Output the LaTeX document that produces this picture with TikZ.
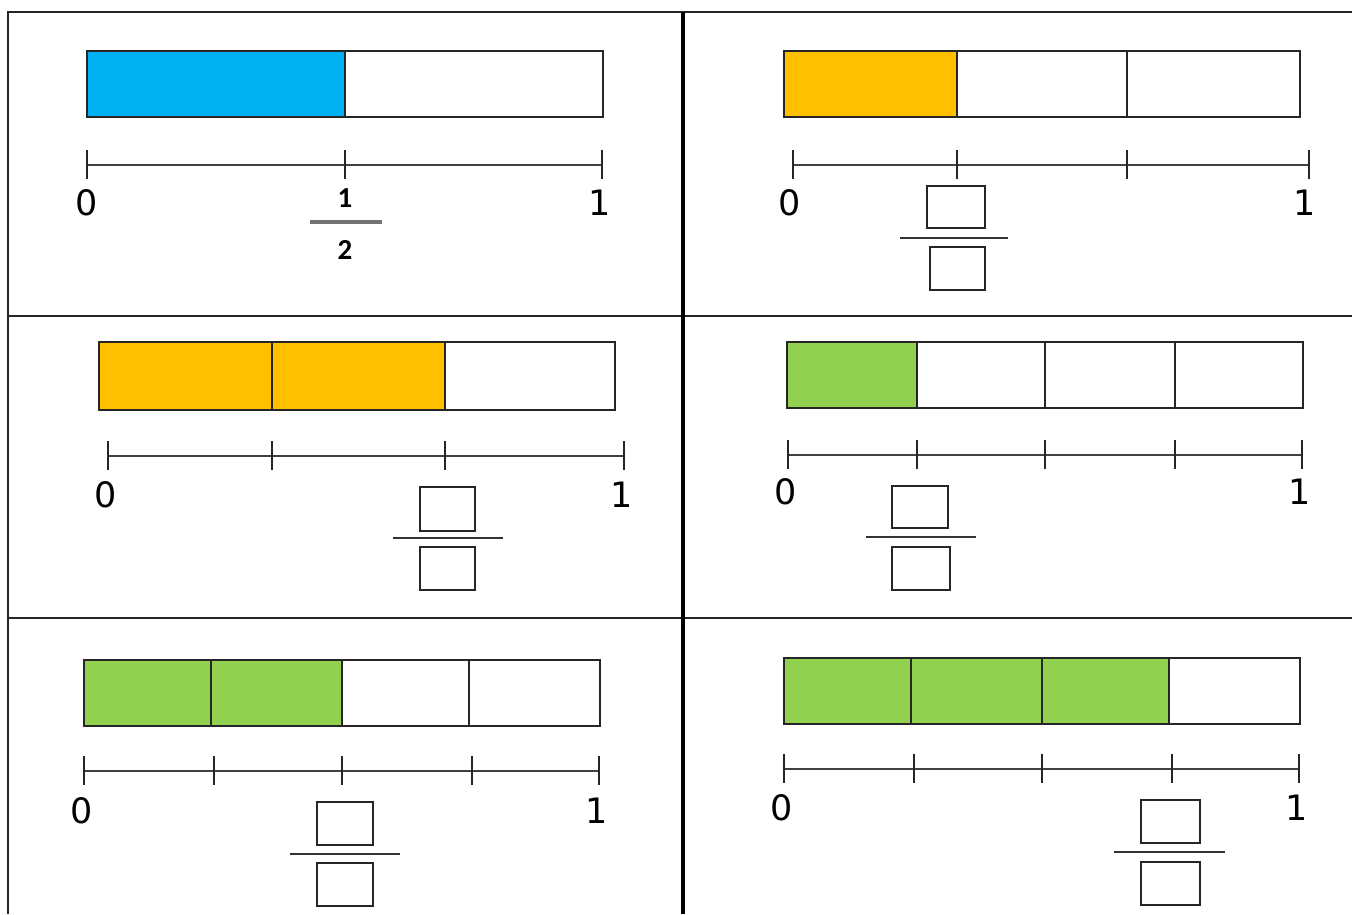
\documentclass[tikz,border=0pt]{standalone}
\usepackage{fontspec}
\newfontfamily\digitfont{DejaVu Sans}
\newfontfamily\fracfont{Carlito}
\definecolor{barblue}{HTML}{00B0F0}
\definecolor{barorange}{HTML}{FFC000}
\definecolor{bargreen}{HTML}{92D050}
\tikzset{
  bar/.style={draw=black!85, line width=1pt},
  nline/.style={draw=black!75, line width=0.8pt},
  tickmark/.style={draw=black!85, line width=0.8pt},
  frame/.style={draw=black!85, line width=0.8pt},
  divider/.style={draw=black, line width=1.8pt},
  digit/.style={font=\digitfont\fontsize{17.5}{17.5}\selectfont, inner sep=0pt},
  smallfrac/.style={font=\fracfont\bfseries\fontsize{14.5}{14.5}\selectfont, inner sep=0pt},
  ansbox/.style={draw=black!85, line width=0.9pt},
  fracbar/.style={draw=black!80, line width=0.8pt}
}
\begin{document}
\begin{tikzpicture}[x=0.5pt,y=-0.5pt]
\useasboundingbox (0,0) rectangle (1352,914);
% frame
\draw[frame] (1352,12) -- (8,12) -- (8,914);
\draw[frame] (8,316) -- (1352,316);
\draw[frame] (8,618) -- (1352,618);
\draw[divider] (683,12) -- (683,914);

% ---------- Panel 1 ----------
\fill[barblue] (87,51) rectangle (345,117);
\draw[bar] (87,51) rectangle (603,117);
\draw[bar] (345,51) -- (345,117);
\coordinate (a0) at (87,165); \coordinate (a2) at (602,165);
\draw[nline] (a0) -- (a2);
\foreach \x in {87,345,602} \draw[tickmark] (\x,150) -- (\x,179);
\node[digit] (a0l) at (87,203) {0};
\node[digit] (a1l) at (600,203) {1};
\node[smallfrac] (anum) at (345,198) {1};
\draw[fracbar, line width=1.6pt, draw=black!55] (310,222) -- (382,222);
\node[smallfrac] (aden) at (345,250) {2};

% ---------- Panel 2 ----------
\fill[barorange] (784,51) rectangle (957,117);
\draw[bar] (784,51) rectangle (1300,117);
\foreach \x in {957,1127} \draw[bar] (\x,51) -- (\x,117);
\draw[nline] (793,165) -- (1309,165);
\foreach \x in {793,957,1127,1309} \draw[tickmark] (\x,150) -- (\x,179);
\node[digit] (b0l) at (790,203) {0};
\node[digit] (b1l) at (1305,203) {1};
\draw[ansbox] (927,186) rectangle (985,228);
\draw[fracbar] (900,238) -- (1008,238);
\draw[ansbox] (930,247) rectangle (985,290);

% ---------- Panel 3 ----------
\fill[barorange] (99,342) rectangle (445,410);
\draw[bar] (99,342) rectangle (615,410);
\foreach \x in {272,445} \draw[bar] (\x,342) -- (\x,410);
\draw[nline] (108,456) -- (624,456);
\foreach \x in {108,272,445,624} \draw[tickmark] (\x,441) -- (\x,470);
\node[digit] (c0l) at (106,495) {0};
\node[digit] (c1l) at (622,495) {1};
\draw[ansbox] (420,487) rectangle (475,531);
\draw[fracbar] (393,538) -- (503,538);
\draw[ansbox] (420,547) rectangle (475,590);

% ---------- Panel 4 ----------
\fill[bargreen] (787,342) rectangle (917,408);
\draw[bar] (787,342) rectangle (1303,408);
\foreach \x in {917,1045,1175} \draw[bar] (\x,342) -- (\x,408);
\draw[nline] (788,455) -- (1302,455);
\foreach \x in {788,917,1045,1175,1302} \draw[tickmark] (\x,440) -- (\x,469);
\node[digit] (d0l) at (786,492) {0};
\node[digit] (d1l) at (1300,492) {1};
\draw[ansbox] (892,486) rectangle (948,528);
\draw[fracbar] (866,537) -- (976,537);
\draw[ansbox] (892,547) rectangle (950,590);

% ---------- Panel 5 ----------
\fill[bargreen] (84,660) rectangle (342,726);
\draw[bar] (84,660) rectangle (600,726);
\foreach \x in {211,342,469} \draw[bar] (\x,660) -- (\x,726);
\draw[nline] (84,771) -- (599,771);
\foreach \x in {84,214,342,472,599} \draw[tickmark] (\x,756) -- (\x,785);
\node[digit] (e0l) at (82,811) {0};
\node[digit] (e1l) at (597,811) {1};
\draw[ansbox] (317,802) rectangle (373,845);
\draw[fracbar] (290,854) -- (400,854);
\draw[ansbox] (317,863) rectangle (373,906);

% ---------- Panel 6 ----------
\fill[bargreen] (784,658) rectangle (1169,724);
\draw[bar] (784,658) rectangle (1300,724);
\foreach \x in {911,1042,1169} \draw[bar] (\x,658) -- (\x,724);
\draw[nline] (784,769) -- (1299,769);
\foreach \x in {784,914,1042,1172,1299} \draw[tickmark] (\x,754) -- (\x,783);
\node[digit] (f0l) at (782,808) {0};
\node[digit] (f1l) at (1297,808) {1};
\draw[ansbox] (1141,800) rectangle (1200,843);
\draw[fracbar] (1114,852) -- (1225,852);
\draw[ansbox] (1141,862) rectangle (1200,905);
\end{tikzpicture}
\end{document}
